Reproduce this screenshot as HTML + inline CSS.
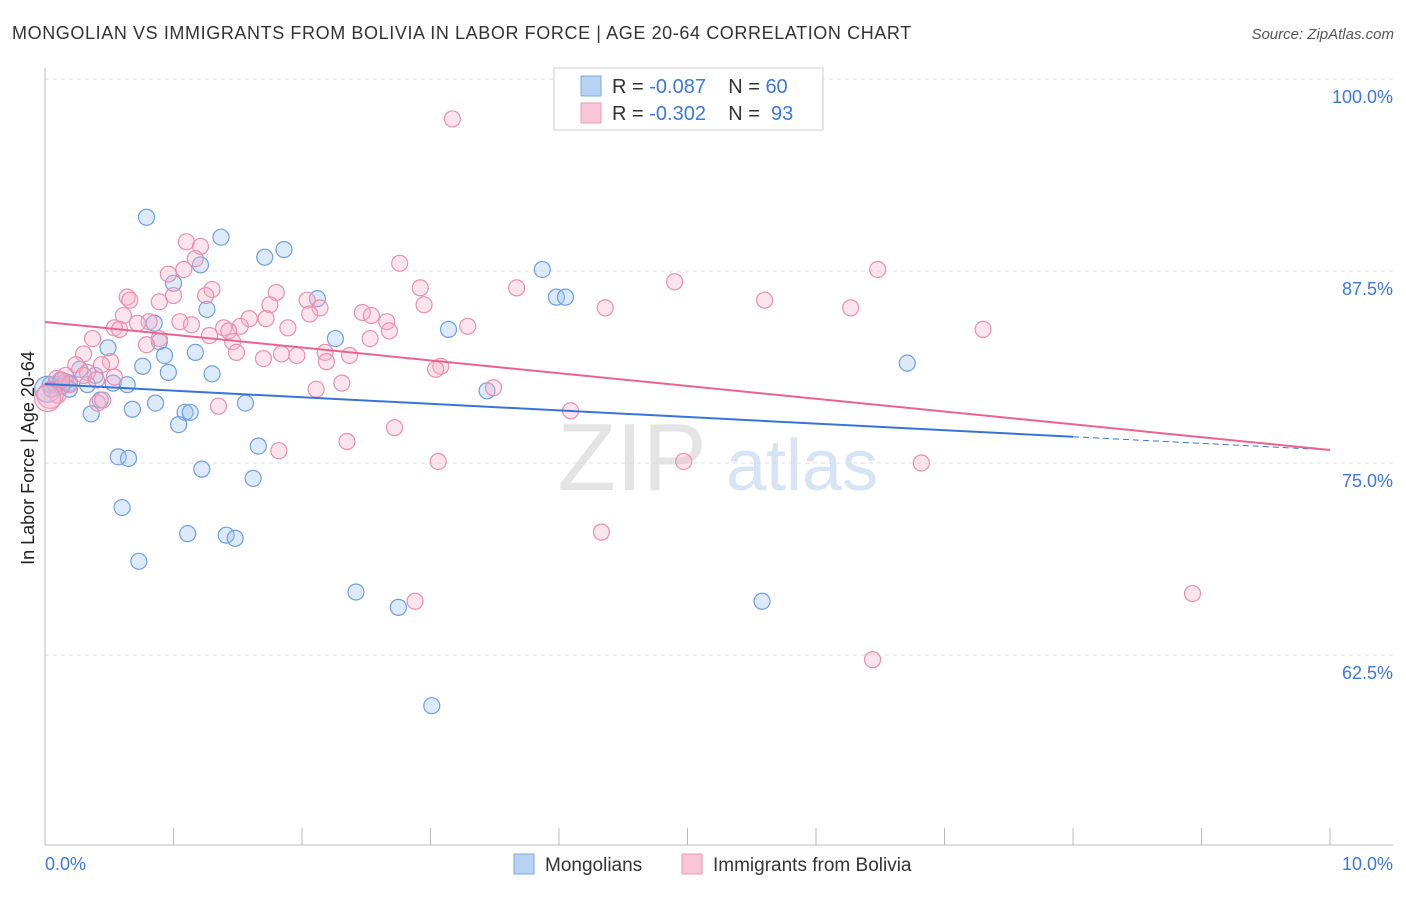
<!DOCTYPE html>
<html><head><meta charset="utf-8"><style>
body{margin:0;background:#fff;font-family:"Liberation Sans",sans-serif}
svg text{font-family:"Liberation Sans",sans-serif}
</style></head><body>
<svg id="chart" width="1406" height="892" xmlns="http://www.w3.org/2000/svg">
<text x="12" y="39" font-size="18" fill="#333" letter-spacing="0.6">MONGOLIAN VS IMMIGRANTS FROM BOLIVIA IN LABOR FORCE | AGE 20-64 CORRELATION CHART</text>
<text x="1394" y="39" font-size="15" fill="#555" text-anchor="end" font-style="italic">Source: ZipAtlas.com</text>
<text x="34" y="458" font-size="18" fill="#222" text-anchor="middle" transform="rotate(-90 34 458)">In Labor Force | Age 20-64</text>
<g><text x="632" y="490" font-size="96" fill="#e4e4e4" text-anchor="middle" font-family="Liberation Serif">ZIP</text><text x="802" y="490" font-size="72" fill="#d6e4f5" text-anchor="middle">atlas</text></g>
<g id="grid"></g><g id="axes"></g><g id="pts"></g><g id="trend"></g>
<g>
<rect x="554" y="68" width="269" height="62" fill="#fff" stroke="#ccc"/>
<rect x="581" y="76" width="20" height="20" fill="#b8d2f3" stroke="#7aa8e2"/>
<rect x="581" y="103" width="20" height="20" fill="#f8c6d6" stroke="#ec9ab8"/>
<text x="612" y="93" font-size="20" fill="#333" xml:space="preserve">R = <tspan fill="#3b78d8">-0.087</tspan>    N = <tspan fill="#3b78d8">60</tspan></text>
<text x="612" y="120" font-size="20" fill="#333" xml:space="preserve">R = <tspan fill="#3b78d8">-0.302</tspan>    N =  <tspan fill="#3b78d8">93</tspan></text>
</g>
<g>
<rect x="514" y="854" width="20" height="20" fill="#b8d2f3" stroke="#7aa8e2"/>
<text x="545" y="871" font-size="19" fill="#333">Mongolians</text>
<rect x="682" y="854" width="20" height="20" fill="#f8c6d6" stroke="#ec9ab8"/>
<text x="713" y="871" font-size="19" fill="#333">Immigrants from Bolivia</text>
</g>
</svg>
<script>
const yTicks=[100,87.5,75,62.5];
const yTickLabels=["100.0%","87.5%","75.0%","62.5%"];
const xTickLabels=["0.0%","10.0%"];
const blueX=[0.79,1.37,1.86,1.71,1.21,3.87,1.00,3.98,4.05,2.12,1.26,0.85,3.14,2.26,0.89,0.49,0.93,1.17,0.76,0.96,6.71,1.30,0.27,0.39,0.12,0.08,0.16,0.19,0.33,0.53,0.64,0.04,0.05,0.19,0.43,0.86,1.56,3.44,0.68,0.36,1.09,1.13,1.04,1.66,0.57,0.65,1.22,1.62,0.60,1.11,1.41,1.48,0.73,2.42,2.75,5.58,3.01,0.02,0.13];
const blueY=[91.0,89.7,88.9,88.4,87.9,87.6,86.7,85.8,85.8,85.7,85.0,84.1,83.7,83.1,82.9,82.5,82.0,82.2,81.3,80.9,81.5,80.8,81.1,80.7,80.4,80.1,80.3,80.2,80.1,80.2,80.1,80.1,79.8,79.8,79.1,78.9,78.9,79.7,78.5,78.2,78.3,78.3,77.5,76.1,75.4,75.3,74.6,74.0,72.1,70.4,70.3,70.1,68.6,66.6,65.6,66.0,59.2,79.8,80.0];
const pinkX=[3.17,1.10,1.21,1.17,2.76,6.48,0.96,1.08,4.90,3.67,2.92,1.30,1.80,0.64,0.89,0.66,1.00,1.25,5.60,2.04,1.75,4.36,6.27,2.95,2.14,2.47,2.54,2.06,1.59,1.72,0.61,0.81,1.05,0.72,1.14,2.66,1.52,1.39,0.54,0.58,1.89,1.43,3.29,7.30,1.28,2.68,0.37,0.89,1.46,0.79,2.53,1.49,0.30,1.70,1.96,2.18,1.84,2.37,2.19,0.51,0.24,0.44,3.08,3.04,0.33,0.16,0.09,0.30,0.54,2.31,3.49,2.11,0.10,0.41,0.45,1.35,4.09,2.72,2.35,1.82,3.06,4.97,6.82,4.33,2.88,8.93,6.44,0.04,0.02,0.19,0.40,0.13];
const pinkY=[97.4,89.4,89.1,88.3,88.0,87.6,87.3,87.6,86.8,86.4,86.4,86.3,86.1,85.8,85.5,85.6,85.9,85.9,85.6,85.6,85.3,85.1,85.1,85.3,85.1,84.8,84.6,84.7,84.4,84.4,84.6,84.2,84.2,84.1,84.0,84.2,83.9,83.8,83.8,83.7,83.8,83.6,83.9,83.7,83.3,83.6,83.1,83.1,82.9,82.7,83.1,82.2,82.1,81.8,82.0,82.2,82.1,82.0,81.6,81.6,81.4,81.4,81.3,81.1,80.9,80.7,80.5,80.7,80.6,80.2,79.9,79.8,79.4,78.9,79.1,78.7,78.4,77.3,76.4,75.8,75.1,75.1,75.0,70.5,66.0,66.5,62.2,79.4,79.2,80.1,80.4,80.4];
const blueTrend=[80.14,75.85], pinkTrend=[84.18,75.85], blueSolidEnd=8.0;
const X=v=>45+v*128.5, Y=v=>79+(100-v)*15.36;
const NS="http://www.w3.org/2000/svg";
function mk(tag,attrs,parent){const e=document.createElementNS(NS,tag);for(const k in attrs)e.setAttribute(k,attrs[k]);document.getElementById(parent).appendChild(e);return e;}
yTicks.forEach((t,i)=>{
 const l=mk('line',{x1:45,x2:1393,y1:Y(t),y2:Y(t),stroke:'#ddd','stroke-dasharray':'4,4'},'grid');
 
 
 const tx=mk('text',{x:1393,y:Y(t)+24,'font-size':18,fill:'#3b78d8','text-anchor':'end'},'grid');
 tx.textContent=yTickLabels[i];
 
 
});
let ax=mk('line',{x1:45,x2:1393,y1:845,y2:845,stroke:'#bbb'},'axes');


let ay=mk('line',{x1:45,x2:45,y1:68,y2:845,stroke:'#bbb'},'axes');


for(let i=0;i<=10;i++){const t=mk('line',{x1:X(i),x2:X(i),y1:828,y2:845,stroke:'#bbb'},'axes');
 
 }
[[0,'start',45],[10,'end',1393]].forEach((d,i)=>{const t=mk('text',{x:d[2],y:870,'font-size':18,fill:'#3b78d8','text-anchor':d[1]},'axes');t.textContent=xTickLabels[i];
 
 });
function pts(xs,ys,fill,stroke,name){xs.forEach((x,i)=>{const big=(x<0.06&&i>=xs.length-5);
 const c=mk('circle',{cx:X(x),cy:Y(ys[i]),r:big?13:8,fill:fill,'fill-opacity':0.35,stroke:stroke,'stroke-width':1.2},'pts');
 
 });}
pts(blueX,blueY,'#9fc2ee','#6f9fe0','mongolian-point');
pts(pinkX,pinkY,'#f5b3c8','#e98fb0','bolivia-point');
const ty=(t,x)=>t[0]+(t[1]-t[0])*x/10;
let b1=mk('line',{x1:X(0),y1:Y(blueTrend[0]),x2:X(blueSolidEnd),y2:Y(ty(blueTrend,blueSolidEnd)),stroke:'#3874d8','stroke-width':2},'trend');


let b2=mk('line',{x1:X(blueSolidEnd),y1:Y(ty(blueTrend,blueSolidEnd)),x2:X(10),y2:Y(blueTrend[1]),stroke:'#3874d8','stroke-width':1,'stroke-dasharray':'6,4'},'trend');


let p1=mk('line',{x1:X(0),y1:Y(pinkTrend[0]),x2:X(10),y2:Y(pinkTrend[1]),stroke:'#e8648f','stroke-width':2},'trend');


</script>
</body></html>
